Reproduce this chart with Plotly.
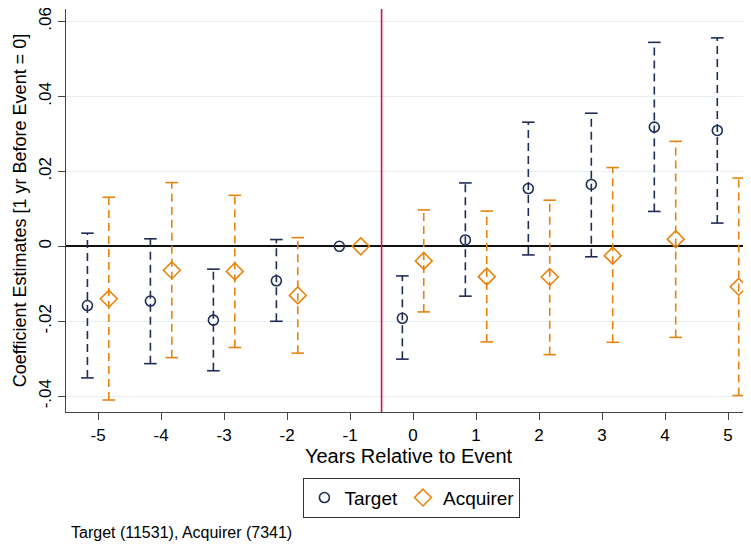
import plotly.graph_objects as go

years = [-5, -4, -3, -2, -1, 0, 1, 2, 3, 4, 5]
tick_labels = ["-5", "-4", "-3", "-2", "-1", "0", "1", "2", "3", "4", "5"]

target_est = [-0.0158, -0.0146, -0.0197, -0.0092, 0.0, -0.0192, 0.0017, 0.0154, 0.0165, 0.0318, 0.0309]
target_hi = [0.0035, 0.0020, -0.0061, 0.0018, None, -0.0079, 0.0169, 0.0331, 0.0355, 0.0544, 0.0556]
target_lo = [-0.0351, -0.0313, -0.0332, -0.0200, None, -0.0301, -0.0133, -0.0023, -0.0028, 0.0093, 0.0062]

acq_est = [-0.0140, -0.0064, -0.0067, -0.0131, 0.0, -0.0039, -0.0081, -0.0082, -0.0025, 0.0019, -0.0108]
acq_hi = [0.0131, 0.0170, 0.0136, 0.0023, None, 0.0097, 0.0094, 0.0123, 0.0210, 0.0280, 0.0182]
acq_lo = [-0.0410, -0.0297, -0.0270, -0.0285, None, -0.0175, -0.0255, -0.0289, -0.0256, -0.0243, -0.0398]

y_ticks = [-0.04, -0.02, 0.0, 0.02, 0.04, 0.06]
y_tick_text = ["-.04", "-.02", "0", ".02", ".04", ".06"]

NAVY = "#1f2c56"
ORANGE = "#e8840e"
RED = "#c8164a"
OFF = 0.17
FONT = "Liberation Sans, Arial, Helvetica, sans-serif"

fig = go.Figure()


def add_series(est, lo, hi, offset, color, symbol, size, name):
    xs = [y + offset for y in years]
    lx, ly = [], []
    cx, cy = [], []
    for x, l, h in zip(xs, lo, hi):
        if l is None or h is None:
            continue
        lx += [x, x, None]
        ly += [l, h, None]
        cx += [x, x]
        cy += [l, h]
    fig.add_trace(go.Scatter(x=lx, y=ly, mode="lines", showlegend=False,
                             line=dict(color=color, width=1.6, dash="8px,5px"),
                             hoverinfo="skip"))
    fig.add_trace(go.Scatter(x=cx, y=cy, mode="markers", showlegend=False,
                             marker=dict(symbol="line-ew", size=9,
                                         line=dict(color=color, width=1.6)),
                             hoverinfo="skip"))
    fig.add_trace(go.Scatter(x=xs, y=est, mode="markers", name=name,
                             marker=dict(symbol=symbol, size=size, color=color,
                                         line=dict(color=color, width=1.6))))


add_series(target_est, target_lo, target_hi, -OFF, NAVY, "circle-open", 10, "Target")
add_series(acq_est, acq_lo, acq_hi, OFF, ORANGE, "diamond-open", 13, "Acquirer")

fig.add_shape(type="line", xref="x", yref="paper", x0=-0.5, x1=-0.5, y0=0, y1=1,
              line=dict(color=RED, width=1.6))

fig.add_annotation(text="Target (11531), Acquirer (7341)", xref="paper", yref="paper",
                   x=0.004, y=-0.298, xanchor="left", yanchor="middle", showarrow=False,
                   font=dict(size=16, color="#000", family=FONT))

# The page body adds an 8px offset, so the figure is sized to fill the rest of the window.
fig.update_layout(
    width=743, height=537,
    margin=dict(l=58, r=0, t=1, b=133, autoexpand=False),
    paper_bgcolor="white", plot_bgcolor="white",
    font=dict(family=FONT, color="#000"),
    showlegend=True,
    legend=dict(orientation="h", x=0.505, y=-0.163, xanchor="center", yanchor="top",
                bordercolor="#333", borderwidth=1, font=dict(size=19),
                itemwidth=30, bgcolor="white", tracegroupgap=0),
    xaxis=dict(range=[-5.51, 5.365], tickvals=years, ticktext=tick_labels,
               automargin=False,
               showgrid=False, zeroline=False, showline=True, linecolor="#444",
               linewidth=1.3, ticks="outside", ticklen=7, tickcolor="#444",
               tickfont=dict(size=17), ticklabeloverflow="allow",
               title=dict(text="Years Relative to Event", font=dict(size=20), standoff=2)),
    yaxis=dict(range=[-0.0442, 0.0633], tickvals=y_ticks, ticktext=y_tick_text,
               automargin=False, ticklabeloverflow="allow",
               tickangle=-90, showgrid=True, gridcolor="#e8f0f2", gridwidth=1,
               zeroline=True, zerolinecolor="#111", zerolinewidth=1.6,
               showline=True, linecolor="#444", linewidth=1.3,
               ticks="outside", ticklen=7, tickcolor="#444",
               tickfont=dict(size=17),
               title=dict(text="Coefficient Estimates [1 yr Before Event = 0]",
                          font=dict(size=18), standoff=4)),
)

fig.write_html("out.html")
